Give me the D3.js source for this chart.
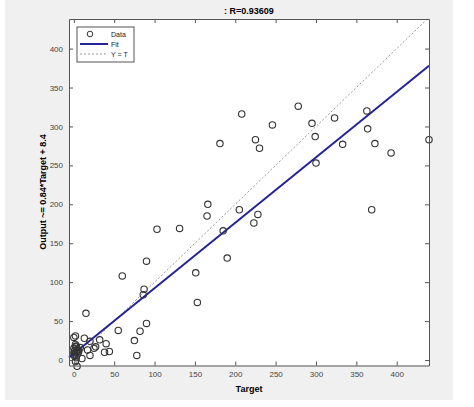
<!DOCTYPE html>
<html><head><meta charset="utf-8">
<script src="https://cdn.jsdelivr.net/npm/d3@7"></script>
<style>body{margin:0;background:#fff;font-family:Arial,"Liberation Sans",sans-serif}</style>
</head><body><svg></svg>
<script>
var width = 474, height = 407;
var targets = [181,208,225,230,246,278,295,299,300,323,333,363,364,373,393,440,
  369,166,165,205,228,223,185,190,103,131,90,60,151,153,87,86,15,90,55,82,75,78,
  2,0,13,32,20,40,27,25,38,44,20,10,4,2,17,6,0,1,2,3,5,4,1,2,6,3,8,0,1,3];
var outputs = [278,316,283,272,302,326,304,287,253,311,277,320,297,278,266,283,
  193,200,185,193,187,176,166,131,168,169,127,108,112,74,91,84,60,47,38,37,25,6,
  31,29,28,26,24,21,17,15,10,11,6,2,-8,-2,13,13,15,12,17,10,8,14,5,20,11,3,16,9,7,18];
var xTicks = [0,50,100,150,200,250,300,350,400];
var yTicks = [0,50,100,150,200,250,300,350,400];
var slope = 0.84, intercept = 8.4;

var svg = d3.select('svg').attr('width', width).attr('height', height);
svg.append('rect').attr('width', width).attr('height', height).attr('fill', '#fff');
svg.append('rect').attr('x', 5).attr('y', 0).attr('width', 448).attr('height', 400).attr('fill', '#f0f0f0');

var x = d3.scaleLinear().domain([-6, 440]).range([69, 429]);
var y = d3.scaleLinear().domain([-7, 438]).range([365.5, 19]);

svg.append('rect').attr('x', 69).attr('y', 19).attr('width', 360).attr('height', 346.5)
  .attr('fill', '#fff');

var g = svg.append('g');
g.append('line').attr('x1', x(-6)).attr('y1', y(-6)).attr('x2', x(438)).attr('y2', y(438))
  .attr('stroke', '#999').attr('stroke-dasharray', '2,2');
g.append('line').attr('x1', x(-6)).attr('y1', y(slope * -6 + intercept))
  .attr('x2', x(440)).attr('y2', y(slope * 440 + intercept))
  .attr('stroke', '#24239a').attr('stroke-width', 2);
g.selectAll('circle').data(targets).enter().append('circle')
  .attr('cx', (d) => x(d)).attr('cy', (d, i) => y(outputs[i])).attr('r', 3.2)
  .attr('fill', 'none').attr('stroke', '#333').attr('stroke-width', 1.1);

function axis(a, t, tr) {
  var s = svg.append('g').attr('transform', tr).call(a.tickValues(t).tickSize(-4).tickSizeOuter(0).tickPadding(6));
  s.select('.domain').attr('stroke', '#555');
  s.selectAll('line').attr('stroke', '#555');
  s.selectAll('text').attr('fill', '#444').attr('font-size', 8);
  return s;
}
axis(d3.axisBottom(x), xTicks, 'translate(0,365.5)');
axis(d3.axisTop(x), xTicks, 'translate(0,19)').selectAll('text').remove();
axis(d3.axisLeft(y), yTicks, 'translate(69,0)');
axis(d3.axisRight(y), yTicks, 'translate(429,0)').selectAll('text').remove();

svg.append('text').attr('x', 249).attr('y', 14).attr('text-anchor', 'middle')
  .attr('font-size', 9).attr('font-weight', 'bold').text(': R=0.93609');
svg.append('text').attr('x', 249).attr('y', 392).attr('text-anchor', 'middle')
  .attr('font-size', 9).attr('font-weight', 'bold').text('Target');
svg.append('text').attr('transform', 'rotate(-90)').attr('x', -192).attr('y', 46)
  .attr('text-anchor', 'middle').attr('font-size', 9).attr('font-weight', 'bold')
  .text('Output ~= 0.84*Target + 8.4');

var lg = svg.append('g').attr('transform', 'translate(77,27)');
lg.append('rect').attr('width', 57).attr('height', 35).attr('fill', '#fff').attr('stroke', '#555');
lg.append('circle').attr('cx', 13).attr('cy', 7).attr('r', 2.8).attr('fill', 'none').attr('stroke', '#333');
lg.append('line').attr('x1', 3).attr('x2', 31).attr('y1', 17).attr('y2', 17).attr('stroke', '#24239a').attr('stroke-width', 2);
lg.append('line').attr('x1', 3).attr('x2', 31).attr('y1', 27).attr('y2', 27).attr('stroke', '#999').attr('stroke-dasharray', '2,2');
['Data', 'Fit', 'Y = T'].forEach(function (t, i) {
  lg.append('text').attr('x', 34).attr('y', 10 + i * 10).attr('font-size', 7).attr('fill', '#222').text(t);
});
</script></body></html>
